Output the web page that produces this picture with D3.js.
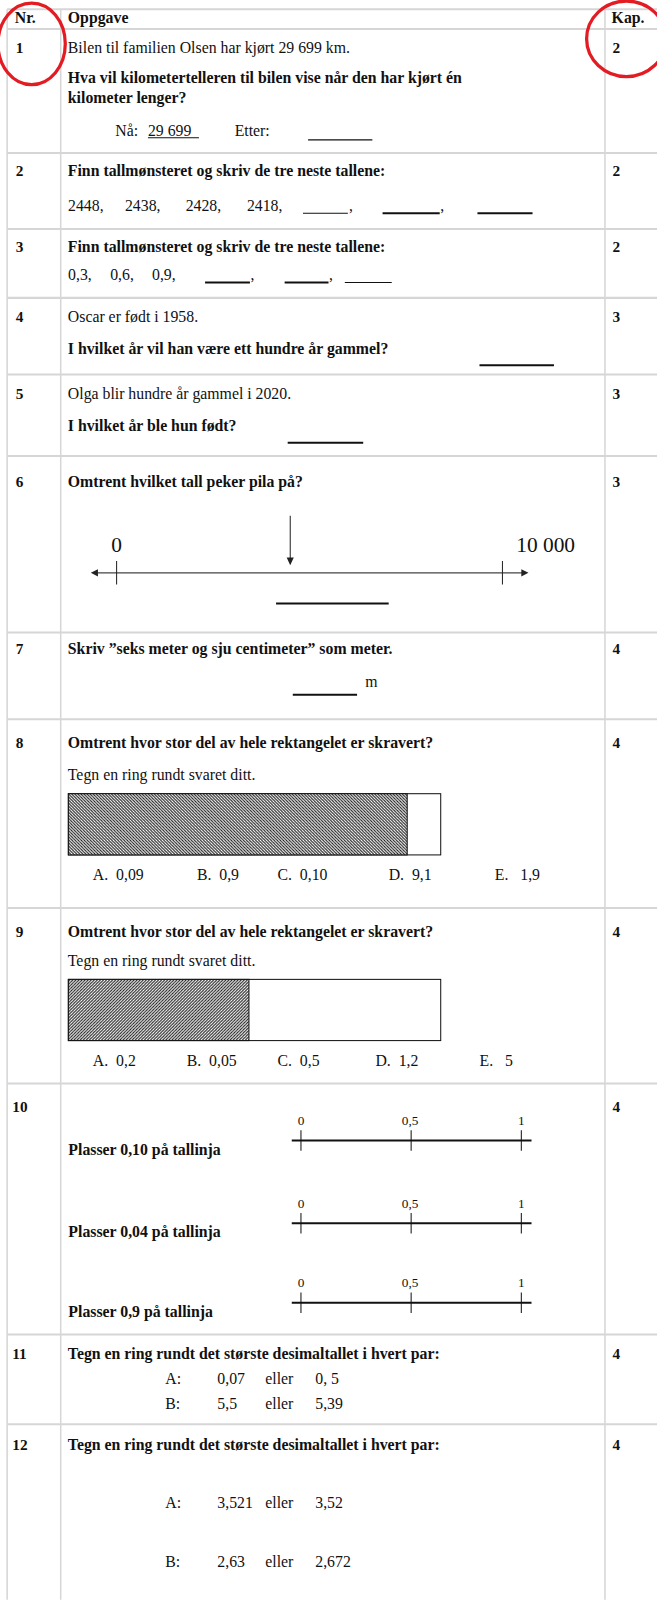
<!DOCTYPE html>
<html>
<head>
<meta charset="utf-8">
<script src="https://cdn.jsdelivr.net/npm/d3@7/dist/d3.min.js"></script>
<style>
    body { margin: 0; background: #fff; }
    text { font-family: "Liberation Serif", "Times New Roman", serif; fill: #111; }
    .b { font-weight: bold; }
</style>
</head>
<body>
<div id="sheet"></div>
<script>
// ---- data ----
var taskNr   = ['1', '2', '3', '4', '5', '6', '7', '8', '9', '10', '11', '12'];
var kapittel = ['2', '2', '2', '3', '3', '3', '4', '4', '4', '4', '4', '4'];
var headers  = ['Nr.', 'Oppgave', 'Kap.'];

var seq2 = ['2448,', '2438,', '2428,', '2418,'];
var seq3 = ['0,3,', '0,6,', '0,9,'];

var line6Domain = [0, 10000];
var line6Labels = ['0', '10 000'];
var line6Arrow = 4500;

var shaded8 = 0.91;
var shaded9 = 0.485;
var options8 = ['A.  0,09', 'B.  0,9', 'C.  0,10', 'D.  9,1', 'E.   1,9'];
var options9 = ['A.  0,2', 'B.  0,05', 'C.  0,5', 'D.  1,2', 'E.   5'];

var line10Ticks  = [0, 0.5, 1];
var line10Labels = ['0', '0,5', '1'];
var place10 = ['Plasser 0,10 på tallinja', 'Plasser 0,04 på tallinja', 'Plasser 0,9 på tallinja'];

var pairs11 = [['A:', '0,07', 'eller', '0, 5'], ['B:', '5,5', 'eller', '5,39']];
var pairs12 = [['A:', '3,521', 'eller', '3,52'], ['B:', '2,63', 'eller', '2,672']];

// ---- layout (drawn at 644 wide, scaled up to 657) ----
var W = 644;
var rowLines = [9, 28.5, 150, 224.5, 292, 367, 447, 620, 705, 890, 1062, 1308, 1396];
var rowNrY   = [52, 173, 247, 316, 391, 477, 641, 733, 918, 1090, 1332, 1421];
var colX = [7, 59.5, 593];
var grid = '#d6d6d6';

var svg = d3.select('#sheet').append('svg')
    .attr('width', 657)
    .attr('height', 1600);

var defs = svg.append('defs');
function hatch(id, dir) {
    var p = defs.append('pattern')
        .attr('id', id)
        .attr('patternUnits', 'userSpaceOnUse')
        .attr('width', 3).attr('height', 3);
    p.append('rect').attr('width', 3).attr('height', 3).attr('fill', '#fff');
    if (dir > 0) {
        p.append('path').attr('d', 'M0,3 L3,0 M-1,1 L1,-1 M2,4 L4,2');
    } else {
        p.append('path').attr('d', 'M0,0 L3,3 M-1,2 L1,4 M2,-1 L4,1');
    }
    p.select('path').attr('stroke', '#222').attr('stroke-width', 1.1);
}
hatch('h8', -1);
hatch('h9', 1);

var g = svg.append('g').attr('transform', 'scale(' + (657 / 644) + ')');

function txt(x, y, s, size, bold, anchor) {
    return g.append('text')
        .attr('x', x).attr('y', y)
        .attr('font-size', size || 15)
        .attr('class', bold ? 'b' : null)
        .attr('text-anchor', anchor || 'start')
        .text(s);
}
function hline(x1, x2, y, w) {
    g.append('line').attr('x1', x1).attr('x2', x2).attr('y1', y).attr('y2', y)
        .attr('stroke', '#111').attr('stroke-width', w || 1.2);
}

// ---- grid ----
g.selectAll('line.row').data(rowLines).enter().append('line')
    .attr('class', 'row')
    .attr('x1', colX[0]).attr('x2', W)
    .attr('y1', function (d) { return d; }).attr('y2', function (d) { return d; })
    .attr('stroke', grid).attr('stroke-width', 2);
g.selectAll('line.col').data(colX).enter().append('line')
    .attr('class', 'col')
    .attr('x1', function (d) { return d; }).attr('x2', function (d) { return d; })
    .attr('y1', rowLines[0]).attr('y2', 1568)
    .attr('stroke', grid).attr('stroke-width', 1.5);

// header
txt(14.5, 23, headers[0], 15.5, true);
txt(66.5, 23, headers[1], 15.5, true);
txt(599.5, 23, headers[2], 15.5, true);

// task numbers and chapters
g.selectAll('text.nr').data(taskNr).enter().append('text')
    .attr('class', 'b')
    .attr('x', function (d) { return d.length > 1 ? 12 : 15.5; })
    .attr('y', function (d, i) { return rowNrY[i]; })
    .attr('font-size', 15)
    .text(function (d) { return d; });
g.selectAll('text.kap').data(kapittel).enter().append('text')
    .attr('class', 'b')
    .attr('x', 600.5)
    .attr('y', function (d, i) { return rowNrY[i]; })
    .attr('font-size', 15)
    .text(function (d) { return d; });

// ---- task 1 ----
txt(66.5, 52, 'Bilen til familien Olsen har kjørt 29 699 km.', 15.5);
txt(66.5, 81, 'Hva vil kilometertelleren til bilen vise når den har kjørt én', 15.5, true);
txt(66.5, 101, 'kilometer lenger?', 15.5, true);
txt(113, 133, 'Nå: ', 15.5);
txt(145, 133, '29 699', 15.5);
hline(145, 195, 135, 1);
txt(230, 133, 'Etter:', 15.5);
hline(302, 365, 137, 1.2);

// ---- task 2 ----
txt(66.5, 173, 'Finn tallmønsteret og skriv de tre neste tallene:', 15.5, true);
var x2 = [66.7, 122.5, 182, 242];
seq2.forEach(function (s, i) { txt(x2[i], 207, s, 15.5); });
hline(297, 341, 209, 1); txt(342, 207, ',', 15.5);
hline(375, 431, 209, 2); txt(431.5, 207, ',', 15.5);
hline(468, 522, 209, 2);

// ---- task 3 ----
txt(66.5, 247, 'Finn tallmønsteret og skriv de tre neste tallene:', 15.5, true);
var x3 = [66.7, 108, 149];
seq3.forEach(function (s, i) { txt(x3[i], 274, s, 15.5); });
hline(201, 245, 277, 2); txt(245.5, 274, ',', 15.5);
hline(279, 322, 277, 2); txt(322.5, 274, ',', 15.5);
hline(338, 384, 277, 1);

// ---- task 4 ----
txt(66.5, 316, 'Oscar er født i 1958.', 15.5);
txt(66.5, 347, 'I hvilket år vil han være ett hundre år gammel?', 15.5, true);
hline(470, 543, 358, 2);

// ---- task 5 ----
txt(66.5, 391, 'Olga blir hundre år gammel i 2020.', 15.5);
txt(66.5, 422, 'I hvilket år ble hun født?', 15.5, true);
hline(282, 356, 434, 2);

// ---- task 6: number line 0..10 000 ----
txt(66.5, 477, 'Omtrent hvilket tall peker pila på?', 15.5, true);
var x6 = d3.scaleLinear().domain(line6Domain).range([114.3, 492.5]);
var y6 = 561.5;
g.append('line').attr('x1', 95).attr('x2', 512).attr('y1', y6).attr('y2', y6)
    .attr('stroke', '#444').attr('stroke-width', 1.3);
g.append('path').attr('d', 'M89,' + y6 + ' l7,-3.5 l0,7 z').attr('fill', '#222');
g.append('path').attr('d', 'M518,' + y6 + ' l-7,-3.5 l0,7 z').attr('fill', '#222');
g.selectAll('line.t6').data(line6Domain).enter().append('line')
    .attr('x1', function (d) { return x6(d); }).attr('x2', function (d) { return x6(d); })
    .attr('y1', y6 - 11.5).attr('y2', y6 + 11.5)
    .attr('stroke', '#222').attr('stroke-width', 1);
txt(x6(line6Domain[0]), 541, line6Labels[0], 21, false, 'middle');
txt(x6(line6Domain[1]) + 13.5, 541, line6Labels[1], 21, false, 'start');
g.append('line').attr('x1', x6(line6Arrow)).attr('x2', x6(line6Arrow))
    .attr('y1', 505.5).attr('y2', 548).attr('stroke', '#222').attr('stroke-width', 1);
g.append('path').attr('d', 'M' + x6(line6Arrow) + ',554 l-3.5,-7.5 l7,0 z').attr('fill', '#222');
hline(270.6, 381, 591.5, 2);

// ---- task 7 ----
txt(66.5, 641, 'Skriv ”seks meter og sju centimeter” som meter.', 15.5, true);
hline(287, 350, 681, 2);
txt(358, 673, 'm', 15.5);

// ---- task 8 and 9: shaded rectangles ----
function shadedRect(top, frac, pat, opts, optX, optY) {
    var xs = d3.scaleLinear().domain([0, 1]).range([67, 432]);
    g.append('rect').attr('x', xs(0)).attr('y', top).attr('width', xs(1) - xs(0)).attr('height', 60)
        .attr('fill', '#fff').attr('stroke', '#111').attr('stroke-width', 1);
    g.append('rect').attr('x', xs(0)).attr('y', top).attr('width', xs(frac) - xs(0)).attr('height', 60)
        .attr('fill', 'url(#' + pat + ')').attr('stroke', '#111').attr('stroke-width', 1);
    g.selectAll(null).data(opts).enter().append('text')
        .attr('x', function (d, i) { return optX[i]; })
        .attr('y', optY)
        .attr('font-size', 15.5)
        .style('white-space', 'pre')
        .text(function (d) { return d; });
}
txt(66.5, 733, 'Omtrent hvor stor del av hele rektangelet er skravert?', 15.5, true);
txt(66.5, 765, 'Tegn en ring rundt svaret ditt.', 15.5);
shadedRect(778, shaded8, 'h8', options8, [91, 193, 272, 381, 485], 863);

txt(66.5, 918, 'Omtrent hvor stor del av hele rektangelet er skravert?', 15.5, true);
txt(66.5, 947, 'Tegn en ring rundt svaret ditt.', 15.5);
shadedRect(960, shaded9, 'h9', options9, [91, 183, 272, 368, 470], 1045);

// ---- task 10: three number lines 0..1 ----
var x10 = d3.scaleLinear().domain([0, 1]).range([295, 511]);
var lineY10 = [1118, 1199, 1277];
lineY10.forEach(function (ly, k) {
    g.append('line').attr('x1', 286).attr('x2', 521).attr('y1', ly).attr('y2', ly)
        .attr('stroke', '#111').attr('stroke-width', 2);
    g.selectAll(null).data(line10Ticks).enter().append('line')
        .attr('x1', function (d) { return x10(d); }).attr('x2', function (d) { return x10(d); })
        .attr('y1', ly - 10).attr('y2', ly + 10)
        .attr('stroke', '#111').attr('stroke-width', 1);
    g.selectAll(null).data(line10Labels).enter().append('text')
        .attr('x', function (d, i) { return x10(line10Ticks[i]) + (i === 1 ? -1 : 0); })
        .attr('y', ly - 15)
        .attr('font-size', 13)
        .attr('text-anchor', 'middle')
        .text(function (d) { return d; });
    txt(67, ly + 14, place10[k], 15.5, true);
});

// ---- task 11 and 12: pairs ----
var pairX = [162, 213, 260, 309];
function pairs(rows, ys) {
    rows.forEach(function (r, i) {
        g.selectAll(null).data(r).enter().append('text')
            .attr('x', function (d, j) { return pairX[j]; })
            .attr('y', ys[i])
            .attr('font-size', 15.5)
            .text(function (d) { return d; });
    });
}
txt(66.5, 1332, 'Tegn en ring rundt det største desimaltallet i hvert par:', 15.5, true);
pairs(pairs11, [1357, 1381]);
txt(66.5, 1421, 'Tegn en ring rundt det største desimaltallet i hvert par:', 15.5, true);
pairs(pairs12, [1478, 1536]);

// ---- red rings ----
g.append('ellipse').attr('cx', 31).attr('cy', 43).attr('rx', 33).attr('ry', 40)
    .attr('fill', 'none').attr('stroke', '#e31b23').attr('stroke-width', 3.2);
g.append('ellipse').attr('cx', 614).attr('cy', 38).attr('rx', 39).attr('ry', 37)
    .attr('fill', 'none').attr('stroke', '#e31b23').attr('stroke-width', 3.2);
</script>
</body>
</html>
